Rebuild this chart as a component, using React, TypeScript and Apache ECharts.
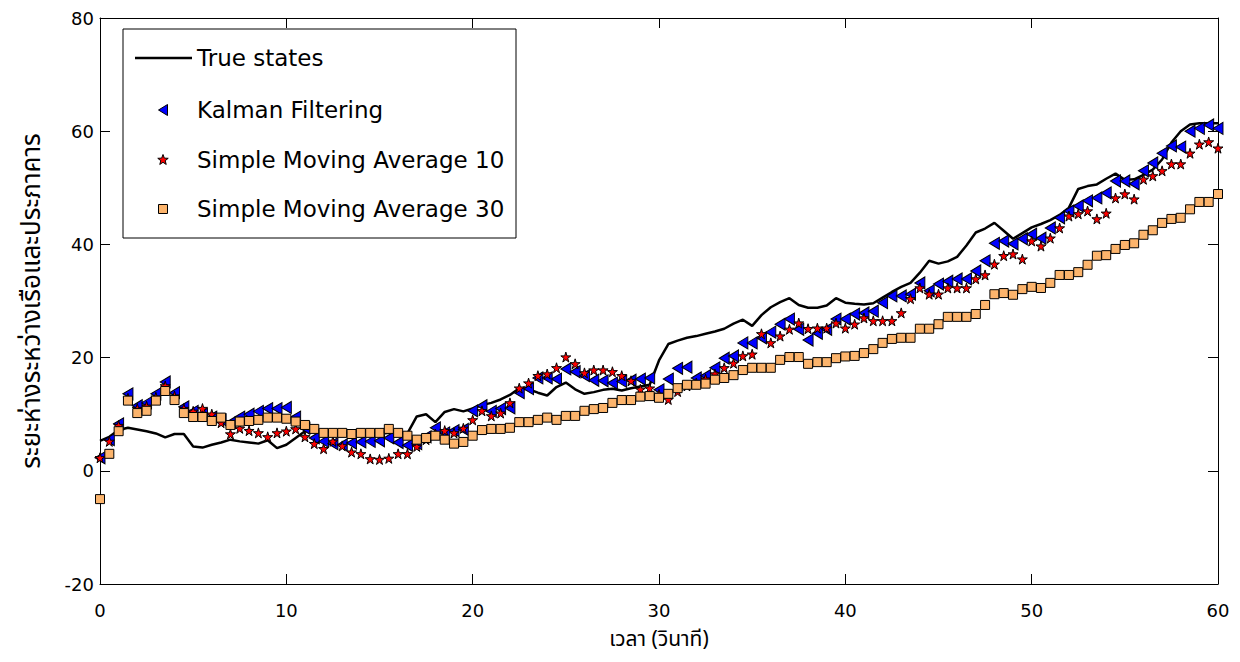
import React, { useEffect, useRef } from "react";
import * as echarts from "echarts";

// ---- data (sampled every 0.5 s, t = 0 … 60) ----
const TRUE_STATES = [
  5.3, 6.0, 7.2, 7.6, 7.3, 7.0, 6.6, 5.9, 6.5, 6.5,
  4.3, 4.1, 4.6, 5.0, 5.5, 5.2, 5.0, 4.8, 5.4, 4.0,
  4.6, 5.8, 7.0, 7.3, 7.0, 6.8, 6.6, 6.8, 7.0, 6.8,
  6.5, 6.7, 6.8, 6.6, 9.6, 10.0, 8.6, 10.4, 10.9, 10.5,
  11.0, 11.6, 12.0, 12.6, 13.4, 14.6, 14.4, 13.8, 13.3, 14.8,
  15.6, 14.4, 13.6, 13.9, 14.3, 14.5, 14.2, 14.6, 14.9, 15.2,
  19.5, 22.4, 23.0, 23.5, 23.8, 24.2, 24.6, 25.1, 26.0, 26.7,
  25.6, 27.5, 28.9, 29.8, 30.5, 29.3, 28.8, 28.8, 29.2, 30.5,
  29.7, 29.5, 29.4, 29.6, 30.6, 31.6, 32.5, 33.2, 35.0, 37.1,
  36.6, 37.0, 37.8, 39.8, 42.1, 42.8, 43.8, 42.4, 41.0, 42.0,
  43.0, 43.6, 44.3, 45.2, 46.5, 49.8, 50.3, 50.6, 51.6, 52.5,
  51.4, 51.5, 52.3, 53.2, 55.0, 58.0, 60.0, 61.2, 61.4, 61.4,
  61.4,
];

const KALMAN = [
  2.3, 5.5, 8.3, 13.6, 11.5, 12.0, 13.6, 15.7, 13.8, 11.3,
  10.5, 10.0, 9.5, 9.0, 8.5, 9.5, 10.0, 10.5, 11.0, 11.0,
  11.2, 9.5, 7.5, 5.8, 5.2, 4.8, 4.6, 4.9, 5.1, 5.2,
  5.3, 5.8, 5.0, 4.5, 4.8, 6.0, 7.6, 6.7, 7.1, 7.3,
  10.6, 11.5, 10.5, 11.0, 11.1, 13.8, 14.5, 16.4, 16.4, 16.2,
  18.0, 17.5, 16.8, 16.0, 15.9, 15.5, 15.8, 16.0, 16.2, 16.4,
  14.3, 16.2, 18.1, 18.3, 16.4, 16.8, 18.2, 19.9, 20.3, 22.6,
  22.6, 23.5, 24.5, 25.9, 26.8, 25.0, 23.1, 24.3, 25.0, 26.8,
  26.8, 27.7, 27.9, 28.2, 29.7, 30.9, 30.9, 31.2, 33.2, 31.8,
  33.0, 33.5, 33.9, 33.9, 35.3, 37.1, 40.2, 40.6, 40.1, 41.0,
  41.8, 41.1, 42.9, 44.7, 45.9, 46.8, 47.7, 48.2, 49.1, 51.2,
  51.2, 50.7, 53.0, 54.4, 56.1, 57.4, 57.2, 60.0, 60.5, 61.1,
  60.5,
];

const SMA10 = [
  2.3, 5.2, 8.0, 12.8, 11.0, 11.4, 13.0, 15.0, 13.2, 11.0,
  10.5, 11.0, 10.0, 8.5, 6.5, 7.5, 7.1, 6.7, 6.0, 6.7,
  7.0, 7.4, 6.0, 4.8, 3.9, 5.2, 4.4, 3.3, 3.0, 2.1,
  2.0, 2.2, 3.0, 3.0, 4.3, 5.5, 6.5, 7.1, 6.7, 7.5,
  9.0, 10.6, 9.7, 10.2, 12.0, 14.6, 15.5, 16.8, 17.1, 18.2,
  20.1, 18.9, 17.3, 17.8, 17.8, 17.5, 16.8, 15.9, 14.4, 14.6,
  13.5, 12.6, 14.0, 15.0, 15.5, 16.2, 17.1, 18.2, 19.0, 20.3,
  20.6, 24.2, 22.6, 23.8, 25.0, 26.1, 25.1, 25.2, 25.2, 26.1,
  25.2, 25.9, 27.0, 26.5, 26.5, 26.5, 27.9, 30.4, 32.3, 31.2,
  31.2, 32.3, 32.3, 32.3, 33.9, 34.6, 36.5, 38.0, 38.3, 37.4,
  40.6, 39.7, 41.1, 42.9, 45.0, 45.4, 45.9, 44.5, 45.5, 48.2,
  48.9, 48.0, 51.5, 52.1, 53.0, 54.2, 54.2, 56.1, 57.7, 58.1,
  57.0,
];

const SMA30 = [
  -5.0, 3.0, 7.0, 12.4, 10.2, 10.6, 12.4, 14.1, 12.5, 10.2,
  9.5, 9.5, 8.8, 9.4, 8.1, 8.7, 8.8, 9.0, 9.4, 9.4,
  9.2, 8.7, 8.1, 7.4, 6.7, 6.7, 6.7, 6.5, 6.7, 6.7,
  6.7, 7.4, 6.7, 6.2, 5.5, 5.8, 6.2, 5.5, 4.8, 5.1,
  6.2, 7.2, 7.4, 7.4, 7.6, 8.6, 8.6, 9.0, 9.4, 9.0,
  9.7, 9.7, 10.6, 10.9, 11.1, 12.0, 12.5, 12.5, 13.1, 13.2,
  12.9, 13.6, 14.6, 15.2, 15.2, 15.4, 16.1, 16.4, 16.9, 17.8,
  18.2, 18.2, 18.2, 19.6, 20.1, 20.1, 18.9, 19.2, 19.2, 19.9,
  20.2, 20.3, 20.8, 21.5, 22.6, 23.3, 23.5, 23.5, 25.1, 25.1,
  25.9, 27.2, 27.2, 27.2, 27.7, 29.3, 31.2, 31.4, 31.1, 32.1,
  32.5, 32.3, 33.2, 34.6, 34.6, 35.1, 36.4, 38.0, 38.1, 39.2,
  39.9, 40.2, 41.7, 42.5, 43.8, 44.5, 44.7, 46.2, 47.5, 47.5,
  48.9,
];

const SAMPLE_STEP = 0.5; // seconds between samples
const X_TICKS = { min: 0, max: 60, interval: 10 };
const Y_TICKS = { min: -20, max: 80, interval: 20 };

const SERIES_NAMES = [
  "True states",
  "Kalman Filtering",
  "Simple Moving Average 10",
  "Simple Moving Average 30",
];
const X_TITLE = "เวลา (วินาที)";
const Y_TITLE = "ระยะห่างระหว่างเรือและประภาคาร";

const toPairs = (arr: number[]) => arr.map((v, i) => [i * SAMPLE_STEP, v]);

const TRI_PATH = "path://M0,50 L100,0 L100,100 Z";
const STAR_PATH =
  "path://M50,0 L61,35 L98,35 L68,57 L79,91 L50,70 L21,91 L32,57 L2,35 L39,35 Z";

const FONT = '"DejaVu Sans", Arial, sans-serif';
const THAI_FONT = '"Noto Sans Thai", "Noto Sans", "DejaVu Sans", sans-serif';

function starPoints(cx: number, cy: number, ro: number, ri: number) {
  const pts: number[][] = [];
  for (let k = 0; k < 10; k++) {
    const a = -Math.PI / 2 + (k * Math.PI) / 5;
    const r = k % 2 === 0 ? ro : ri;
    pts.push([cx + r * Math.cos(a), cy + r * Math.sin(a)]);
  }
  return pts;
}

export default function App() {
  const ref = useRef<HTMLDivElement>(null);

  useEffect(() => {
    if (!ref.current) return;
    const chart = echarts.init(ref.current, undefined, { renderer: "svg" });

    const axisCommon = {
      axisLine: { show: true, onZero: false, lineStyle: { color: "#000", width: 1 } },
      axisTick: { show: true, inside: true, length: 10, lineStyle: { color: "#000" } },
      splitLine: { show: false },
    };

    const legendX = 123;
    const legendY = 29;
    const rows = [58, 110, 160, 209];
    const markX = 163;
    const textX = 197;
    const legendFont = { fontSize: 23, fontFamily: FONT, fill: "#000" };

    chart.setOption({
      animation: false,
      backgroundColor: "#fff",
      grid: { left: 100, right: 22, top: 18, bottom: 78, containLabel: false },
      xAxis: [
        {
          type: "value",
          ...X_TICKS,
          position: "bottom",
          ...axisCommon,
          axisLabel: { color: "#000", fontSize: 18, fontFamily: FONT, margin: 17 },
          name: X_TITLE,
          nameLocation: "middle",
          nameGap: 45,
          nameTextStyle: { color: "#000", fontSize: 21, fontFamily: THAI_FONT },
        },
        {
          type: "value",
          ...X_TICKS,
          position: "top",
          ...axisCommon,
          axisLabel: { show: false },
        },
      ],
      yAxis: [
        {
          type: "value",
          ...Y_TICKS,
          position: "left",
          ...axisCommon,
          axisLabel: { color: "#000", fontSize: 18, fontFamily: FONT, margin: 6 },
          name: Y_TITLE,
          nameLocation: "middle",
          nameGap: 55,
          nameRotate: 90,
          nameTextStyle: { color: "#000", fontSize: 26, fontFamily: THAI_FONT },
        },
        {
          type: "value",
          ...Y_TICKS,
          position: "right",
          ...axisCommon,
          axisLabel: { show: false },
        },
      ],
      series: [
        {
          name: SERIES_NAMES[0],
          type: "line",
          data: toPairs(TRUE_STATES),
          symbol: "none",
          lineStyle: { color: "#000", width: 2.5 },
          z: 2,
        },
        {
          name: SERIES_NAMES[1],
          type: "scatter",
          data: toPairs(KALMAN),
          symbol: TRI_PATH,
          symbolSize: [10, 12],
          itemStyle: { color: "#0000ff", borderColor: "#000", borderWidth: 1, opacity: 1 },
          z: 3,
        },
        {
          name: SERIES_NAMES[2],
          type: "scatter",
          data: toPairs(SMA10),
          symbol: STAR_PATH,
          symbolSize: 10,
          itemStyle: { color: "#ff0000", borderColor: "#000", borderWidth: 1, opacity: 1 },
          z: 4,
        },
        {
          name: SERIES_NAMES[3],
          type: "scatter",
          data: toPairs(SMA30),
          symbol: "rect",
          symbolSize: 9,
          itemStyle: { color: "#fcb46c", borderColor: "#000", borderWidth: 1, opacity: 1 },
          z: 5,
        },
      ],
      graphic: [
        {
          type: "group",
          z: 100,
          children: [
            {
              type: "rect",
              shape: { x: legendX, y: legendY, width: 393, height: 209 },
              style: { fill: "#fff", stroke: "#000", lineWidth: 1 },
            },
            {
              type: "line",
              shape: { x1: 135, y1: rows[0], x2: 192, y2: rows[0] },
              style: { stroke: "#000", lineWidth: 2.5 },
            },
            {
              type: "polygon",
              shape: {
                points: [
                  [markX - 4.5, rows[1]],
                  [markX + 4.5, rows[1] - 5.5],
                  [markX + 4.5, rows[1] + 5.5],
                ],
              },
              style: { fill: "#0000ff", stroke: "#000", lineWidth: 1 },
            },
            {
              type: "polygon",
              shape: { points: starPoints(markX, rows[2], 5.5, 2.3) },
              style: { fill: "#ff0000", stroke: "#000", lineWidth: 1 },
            },
            {
              type: "rect",
              shape: { x: markX - 4.5, y: rows[3] - 4.5, width: 9, height: 9 },
              style: { fill: "#fcb46c", stroke: "#000", lineWidth: 1 },
            },
            ...SERIES_NAMES.map((name, i) => ({
              type: "text",
              x: textX,
              y: rows[i],
              style: { text: name, ...legendFont, verticalAlign: "middle", align: "left" },
            })),
          ],
        },
      ],
    });

    return () => chart.dispose();
  }, []);

  return (
    <div
      ref={ref}
      style={{ position: "absolute", left: 0, top: 0, width: 1240, height: 662, background: "#fff" }}
    />
  );
}
